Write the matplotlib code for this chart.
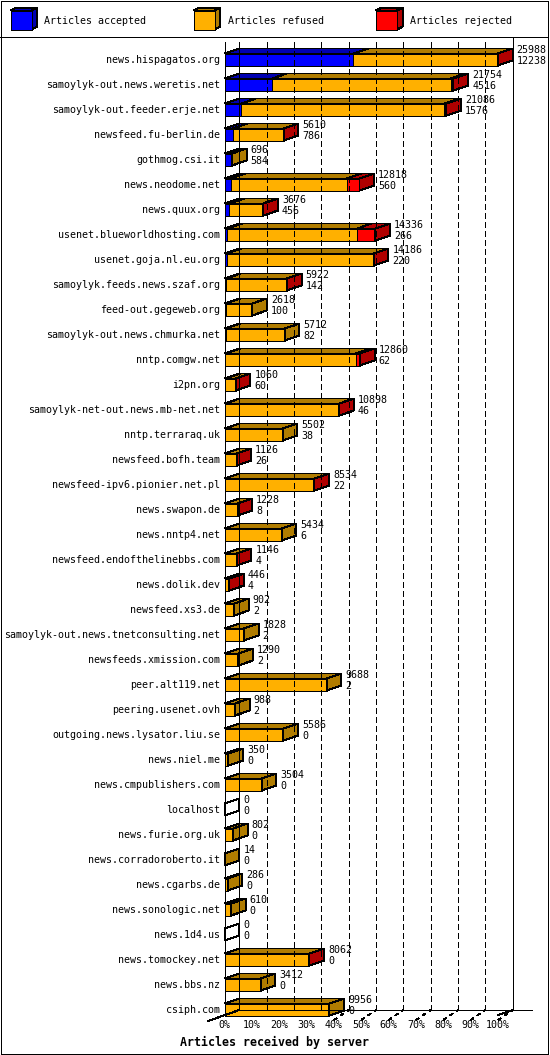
import matplotlib
matplotlib.use('Agg')
import matplotlib.pyplot as plt
from matplotlib.patches import Polygon, Rectangle

plt.rcParams['lines.scale_dashes'] = False

# --- data ---
servers = ['news.hispagatos.org', 'samoylyk-out.news.weretis.net', 'samoylyk-out.feeder.erje.net',
           'newsfeed.fu-berlin.de', 'gothmog.csi.it', 'news.neodome.net', 'news.quux.org',
           'usenet.blueworldhosting.com', 'usenet.goja.nl.eu.org', 'samoylyk.feeds.news.szaf.org',
           'feed-out.gegeweb.org', 'samoylyk-out.news.chmurka.net', 'nntp.comgw.net', 'i2pn.org',
           'samoylyk-net-out.news.mb-net.net', 'nntp.terraraq.uk', 'newsfeed.bofh.team',
           'newsfeed-ipv6.pionier.net.pl', 'news.swapon.de', 'news.nntp4.net',
           'newsfeed.endofthelinebbs.com', 'news.dolik.dev', 'newsfeed.xs3.de',
           'samoylyk-out.news.tnetconsulting.net', 'newsfeeds.xmission.com', 'peer.alt119.net',
           'peering.usenet.ovh', 'outgoing.news.lysator.liu.se', 'news.niel.me',
           'news.cmpublishers.com', 'localhost', 'news.furie.org.uk', 'news.corradoroberto.it',
           'news.cgarbs.de', 'news.sonologic.net', 'news.1d4.us', 'news.tomockey.net',
           'news.bbs.nz', 'csiph.com']
offered = [25988, 21754, 21086, 5610, 696, 12818, 3676, 14336, 14186, 5922, 2618, 5712, 12860,
           1060, 10898, 5502, 1126, 8534, 1228, 5434, 1146, 446, 902, 1828, 1290, 9688, 988,
           5586, 350, 3504, 0, 802, 14, 286, 610, 0, 8062, 3412, 9956]
accepted = [12238, 4516, 1576, 786, 584, 560, 456, 266, 220, 142, 100, 82, 62, 60, 46, 38, 26,
            22, 8, 6, 4, 4, 2, 2, 2, 2, 2, 0, 0, 0, 0, 0, 0, 0, 0, 0, 0, 0, 0]
refused = [13710, 16988, 19310, 4804, 112, 11058, 3200, 12330, 13956, 5770, 2518, 5630, 12418,
           994, 10842, 5464, 1096, 8502, 1216, 5428, 1138, 422, 900, 1826, 1288, 9686, 986,
           5586, 350, 3504, 0, 802, 14, 286, 610, 0, 8052, 3412, 9956]
rejected = [40, 250, 200, 20, 0, 1200, 20, 1740, 10, 10, 0, 0, 380, 6, 10, 0, 4, 10, 4, 0, 4,
            20, 0, 0, 0, 0, 0, 0, 0, 0, 0, 0, 0, 0, 0, 0, 10, 0, 0]
ticks = [0, 10, 20, 30, 40, 50, 60, 70, 80, 90, 100]
legend_names = ['Articles accepted', 'Articles refused', 'Articles rejected']

colors = ['#0000ff', '#ffb000', '#ff0000']
darks = ['#0000b0', '#b07c00', '#b00000']

W, H = 550, 1055
fig = plt.figure(figsize=(W / 100, H / 100), dpi=100)

# pixel layer for frame and legend
pax = fig.add_axes([0, 0, 1, 1])
pax.set_xlim(0, W)
pax.set_ylim(H, 0)
pax.axis('off')

LW = 0.72
mono = 'DejaVu Sans Mono'
FS = 7.2

pax.add_patch(Rectangle((0.5, 0.5), 547, 1053, fill=False, lw=LW, ec='black', antialiased=False))
pax.plot([0, 548], [36.5, 36.5], color='black', lw=LW, antialiased=False)

leg_x = [10.5, 193.5, 376]
for lx, name, c, d in zip(leg_x, legend_names, colors, darks):
    x0, x1, y0, y1 = lx, lx + 21, 10.5, 29.5
    ddx, ddy = 5.6, -2.8
    pax.add_patch(Polygon([(x0, y0), (x1, y0), (x1 + ddx, y0 + ddy), (x0 + ddx, y0 + ddy)],
                          fc=d, ec='black', lw=LW, antialiased=False))
    pax.add_patch(Polygon([(x1, y0), (x1, y1), (x1 + ddx, y1 + ddy), (x1 + ddx, y0 + ddy)],
                          fc=d, ec='black', lw=LW, antialiased=False))
    pax.add_patch(Rectangle((x0, y0), x1 - x0, y1 - y0, fc=c, ec='black', lw=LW, antialiased=False))
    pax.text(x1 + 13, 20.5, name, family=mono, fontsize=FS, ha='left', va='center')

pax.text(274, 1042.5, 'Articles received by server', family=mono, fontsize=8.4,
         fontweight='bold', ha='center', va='center')

# chart layer: x in percent of the biggest feed, y in rows
PX0, PX1 = 224.7, 498.0
PY0, PY1 = 47.0, 1022.0
ax = fig.add_axes([PX0 / W, 1 - PY1 / H, (PX1 - PX0) / W, (PY1 - PY0) / H])
ax.set_xlim(0, 100)
ax.set_ylim(len(servers) - 0.5, -0.5)
ax.axis('off')
ax.patch.set_alpha(0)

ppx = (PX1 - PX0) / 100.0   # px per percent
def row(py):
    return (py - 59.5) / 25.0

DX = 14.6 / ppx
DY = -5 / 25.0
HH = 6 / 25.0
back_bottom = row(1010)
front_bottom = row(1015)
top_line = row(42)

# back wall grid
for p in ticks[1:-1]:
    ax.plot([p + DX, p + DX], [top_line, back_bottom], color='black', lw=LW,
            linestyle=(0, (4.3, 2.2)), clip_on=False, antialiased=False)
ax.plot([DX, DX], [top_line, back_bottom], color='black', lw=LW, clip_on=False, antialiased=False)
ax.plot([100 + DX, 100 + DX], [row(36.5), back_bottom], color='black', lw=LW, clip_on=False,
        antialiased=False)
ax.plot([DX, (531.7 - PX0) / ppx], [back_bottom, back_bottom], color='black', lw=LW,
        clip_on=False, antialiased=False)
ax.plot([0, 0], [top_line, front_bottom], color='black', lw=LW, clip_on=False, antialiased=False)
ax.plot([(208 - PX0) / ppx, DX], [row(1021), back_bottom], color='black', lw=LW, clip_on=False,
        antialiased=False)
ax.plot([100, 100 + DX], [front_bottom, back_bottom], color='black', lw=LW, clip_on=False,
        antialiased=False)

vmax = max(offered)
last_len = offered[-1] / vmax * 100
for p in ticks[1:]:
    if p <= last_len:
        continue  # hidden under the bottom bar
    ax.plot([p, p + DX], [row(1020), back_bottom], color='black', lw=LW,
            linestyle=(0, (2.5, 3.5)), clip_on=False, antialiased=False)
    ax.text(p, row(1025), f'{p}%', family=mono, fontsize=FS, ha='center', va='center')
for p in ticks:
    if p <= last_len:
        ax.text(p, row(1025), f'{p}%', family=mono, fontsize=FS, ha='center', va='center')

# bars
for i, name in enumerate(servers):
    yt, yb = i - HH, i + HH
    parts = [accepted[i], refused[i], rejected[i]]
    x = 0.0
    last = None
    for k, v in enumerate(parts):
        if v <= 0:
            continue
        w = v / vmax * 100
        ax.add_patch(Polygon([(x, yt), (x + w, yt), (x + w + DX, yt + DY), (x + DX, yt + DY)],
                             fc=darks[k], ec='black', lw=LW, clip_on=False, antialiased=False))
        ax.add_patch(Rectangle((x, yt), w, yb - yt, fc=colors[k], ec='black', lw=LW,
                               clip_on=False, antialiased=False))
        x += w
        last = k
    side = darks[last] if last is not None else 'white'
    ax.add_patch(Polygon([(x, yt), (x, yb), (x + DX, yb + DY), (x + DX, yt + DY)],
                         fc=side, ec='black', lw=LW, clip_on=False, antialiased=False))
    ax.text(-4.3 / ppx, i, name, family=mono, fontsize=FS, ha='right', va='center')
    nx = x + DX + 4 / ppx
    ax.text(nx, i - 9.5 / 25, str(offered[i]), family=mono, fontsize=FS, ha='left', va='center')
    ax.text(nx, i + 1.5 / 25, str(accepted[i]), family=mono, fontsize=FS, ha='left', va='center')

fig.savefig('out.png', dpi=100)
